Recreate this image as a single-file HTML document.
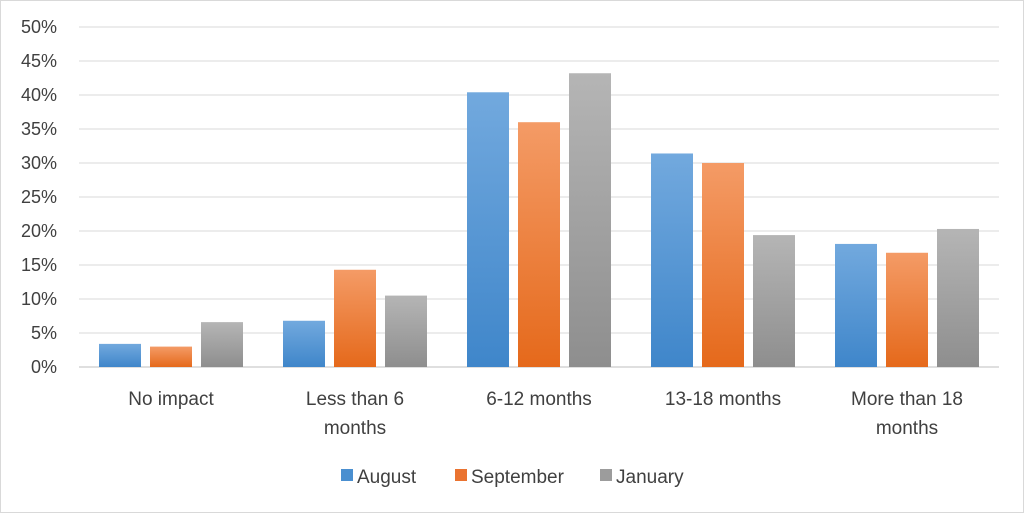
<!DOCTYPE html>
<html><head><meta charset="utf-8"><style>
html,body{margin:0;padding:0;background:#fff;}
svg{display:block;font-family:"Liberation Sans",Calibri,sans-serif;}
</style></head><body>
<svg id="chart" width="1024" height="513" viewBox="0 0 1024 513">
<defs>
<linearGradient id="gBlue" x1="0" y1="0" x2="0" y2="1"><stop offset="0" stop-color="#72a9de"/><stop offset="1" stop-color="#3f86ca"/></linearGradient>
<linearGradient id="gOrange" x1="0" y1="0" x2="0" y2="1"><stop offset="0" stop-color="#f49b66"/><stop offset="1" stop-color="#e5691b"/></linearGradient>
<linearGradient id="gGray" x1="0" y1="0" x2="0" y2="1"><stop offset="0" stop-color="#b5b5b5"/><stop offset="1" stop-color="#8e8e8e"/></linearGradient>
</defs>
<rect x="0.5" y="0.5" width="1023" height="512" fill="#fff" stroke="#d9d9d9"/>
</svg>
<script>
const categories = [["No impact"],["Less than 6","months"],["6-12 months"],["13-18 months"],["More than 18","months"]];
const august = [3.4, 6.8, 40.4, 31.4, 18.1];
const september = [3.0, 14.3, 36.0, 30.0, 16.8];
const january = [6.6, 10.5, 43.2, 19.4, 20.3];
const yTicks = [0,5,10,15,20,25,30,35,40,45,50];
const seriesNames = ["August","September","January"];

const svg = document.getElementById('chart');
const NS = 'http://www.w3.org/2000/svg';
const plotL = 79, plotR = 999, y0 = 367, yTop = 27, yMax = 50;
const yScale = v => y0 - (v / yMax) * (y0 - yTop);
const catW = (plotR - plotL) / categories.length;
const catCenter = i => plotL + catW * (i + 0.5);
const barW = 42, barGap = 9;
function mk(tag, attrs){const e=document.createElementNS(NS,tag);for(const k in attrs)e.setAttribute(k,attrs[k]);svg.appendChild(e);return e;}

yTicks.forEach(t=>{
  const y=yScale(t);
  const g=mk('line',{x1:plotL,x2:plotR,y1:y,y2:y,stroke:t===0?'#bfbfbf':'#d9d9d9','stroke-width':1});
  
  
  const l=mk('text',{x:57,y:y+6,'text-anchor':'end','font-size':18,fill:'#404040'});
  l.textContent=t+'%';
  
  
});

const series=[august,september,january];
const fills=['url(#gBlue)','url(#gOrange)','url(#gGray)'];
series.forEach((vals,s)=>{
  vals.forEach((v,i)=>{
    const x=catCenter(i)+(s-1)*(barW+barGap)-barW/2;
    const r=mk('rect',{x:x,y:yScale(v),width:barW,height:y0-yScale(v),fill:fills[s]});
    
    
  });
});

categories.forEach((lines,i)=>{
  lines.forEach((ln,j)=>{
    const t=mk('text',{x:catCenter(i),y:405+j*29,'text-anchor':'middle','font-size':19,fill:'#404040'});
    t.textContent=ln;
    
    
  });
});

const legendX=[341,455,600];
const legendFill=['#4a8fd0','#ea7330','#9c9c9c'];
seriesNames.forEach((n,s)=>{
  const r=mk('rect',{x:legendX[s],y:469,width:12,height:12,fill:legendFill[s]});
  
  
  const t=mk('text',{x:legendX[s]+16,y:483,'font-size':19,fill:'#404040'});
  t.textContent=n;
  
  
});
</script>
</body></html>
